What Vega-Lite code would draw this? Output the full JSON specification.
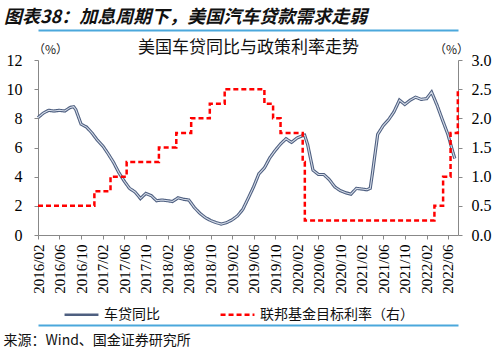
{
  "$schema": "https://vega.github.io/schema/vega-lite/v6.json",
  "width": 420,
  "height": 175,
  "autosize": {"type": "none"},
  "padding": {"left": 38, "top": 60, "right": 42, "bottom": 117},
  "background": "white",
  "config": {"view": {"stroke": null}, "font": "Noto Sans CJK SC"},
  "title": {
    "text": "图表38：加息周期下，美国汽车贷款需求走弱",
    "anchor": "start",
    "frame": "group",
    "dx": -34,
    "offset": 3,
    "fontSize": 18,
    "fontStyle": "italic",
    "fontWeight": "bold",
    "color": "#111111",
    "font": "Noto Sans CJK SC"
  },
  "datasets": {
    "loan": [
      {"date": "2016-02-01", "value": 8.05},
      {"date": "2016-03-01", "value": 8.35},
      {"date": "2016-04-01", "value": 8.55},
      {"date": "2016-05-01", "value": 8.5},
      {"date": "2016-06-01", "value": 8.55},
      {"date": "2016-07-01", "value": 8.5},
      {"date": "2016-08-01", "value": 8.75},
      {"date": "2016-08-20", "value": 8.8},
      {"date": "2016-09-01", "value": 8.6},
      {"date": "2016-10-01", "value": 7.6},
      {"date": "2016-11-01", "value": 7.4},
      {"date": "2016-12-01", "value": 7.0},
      {"date": "2017-01-01", "value": 6.5},
      {"date": "2017-02-01", "value": 6.1},
      {"date": "2017-03-01", "value": 5.6},
      {"date": "2017-04-01", "value": 5.0},
      {"date": "2017-05-01", "value": 4.3},
      {"date": "2017-06-01", "value": 3.7},
      {"date": "2017-07-01", "value": 3.2},
      {"date": "2017-08-01", "value": 2.95},
      {"date": "2017-09-01", "value": 2.5},
      {"date": "2017-10-01", "value": 2.85},
      {"date": "2017-11-01", "value": 2.7},
      {"date": "2017-12-01", "value": 2.35},
      {"date": "2018-01-01", "value": 2.4},
      {"date": "2018-02-01", "value": 2.35},
      {"date": "2018-03-01", "value": 2.3},
      {"date": "2018-04-01", "value": 2.55},
      {"date": "2018-05-01", "value": 2.45},
      {"date": "2018-06-01", "value": 2.4},
      {"date": "2018-07-01", "value": 1.9},
      {"date": "2018-08-01", "value": 1.5},
      {"date": "2018-09-01", "value": 1.2},
      {"date": "2018-10-01", "value": 1.0},
      {"date": "2018-11-01", "value": 0.85},
      {"date": "2018-12-01", "value": 0.75},
      {"date": "2019-01-01", "value": 0.85},
      {"date": "2019-02-01", "value": 1.05},
      {"date": "2019-03-01", "value": 1.3},
      {"date": "2019-04-01", "value": 1.75},
      {"date": "2019-05-01", "value": 2.5},
      {"date": "2019-06-01", "value": 3.3},
      {"date": "2019-07-01", "value": 4.2},
      {"date": "2019-08-01", "value": 4.6},
      {"date": "2019-09-01", "value": 5.3},
      {"date": "2019-10-01", "value": 5.8},
      {"date": "2019-11-01", "value": 6.25},
      {"date": "2019-12-01", "value": 6.6},
      {"date": "2020-01-01", "value": 6.35},
      {"date": "2020-02-01", "value": 6.65},
      {"date": "2020-03-01", "value": 6.8},
      {"date": "2020-03-15", "value": 6.85},
      {"date": "2020-04-01", "value": 6.2},
      {"date": "2020-05-01", "value": 4.45},
      {"date": "2020-06-01", "value": 4.15},
      {"date": "2020-07-01", "value": 4.15},
      {"date": "2020-08-01", "value": 3.8},
      {"date": "2020-09-01", "value": 3.3},
      {"date": "2020-10-01", "value": 3.05},
      {"date": "2020-11-01", "value": 2.9},
      {"date": "2020-12-01", "value": 2.8},
      {"date": "2021-01-01", "value": 3.2},
      {"date": "2021-02-01", "value": 3.15},
      {"date": "2021-03-01", "value": 3.1},
      {"date": "2021-03-20", "value": 3.2},
      {"date": "2021-04-01", "value": 4.2},
      {"date": "2021-05-01", "value": 6.9},
      {"date": "2021-06-01", "value": 7.5},
      {"date": "2021-07-01", "value": 7.9},
      {"date": "2021-08-01", "value": 8.45},
      {"date": "2021-09-01", "value": 9.25},
      {"date": "2021-10-01", "value": 8.95},
      {"date": "2021-11-01", "value": 9.25},
      {"date": "2021-12-01", "value": 9.45},
      {"date": "2022-01-01", "value": 9.3},
      {"date": "2022-02-01", "value": 9.35},
      {"date": "2022-03-01", "value": 9.8},
      {"date": "2022-04-01", "value": 8.9},
      {"date": "2022-05-01", "value": 7.9},
      {"date": "2022-06-01", "value": 6.9},
      {"date": "2022-07-01", "value": 5.6},
      {"date": "2022-07-10", "value": 5.25}
    ],
    "fed": [
      {"date": "2016-02-01", "rate": 0.5},
      {"date": "2016-12-15", "rate": 0.75},
      {"date": "2017-03-16", "rate": 1.0},
      {"date": "2017-06-15", "rate": 1.25},
      {"date": "2017-12-14", "rate": 1.5},
      {"date": "2018-03-22", "rate": 1.75},
      {"date": "2018-06-14", "rate": 2.0},
      {"date": "2018-09-27", "rate": 2.25},
      {"date": "2018-12-20", "rate": 2.5},
      {"date": "2019-08-01", "rate": 2.25},
      {"date": "2019-09-19", "rate": 2.0},
      {"date": "2019-10-31", "rate": 1.75},
      {"date": "2020-03-04", "rate": 1.25},
      {"date": "2020-03-16", "rate": 0.25},
      {"date": "2022-03-17", "rate": 0.5},
      {"date": "2022-05-05", "rate": 1.0},
      {"date": "2022-06-16", "rate": 1.75},
      {"date": "2022-07-27", "rate": 2.5},
      {"date": "2022-07-28", "rate": 2.5}
    ]
  },
  "layer": [
    {
      "data": {"name": "loan"},
      "mark": {"type": "line", "strokeWidth": 3.2},
      "encoding": {
        "x": {
          "field": "date",
          "type": "temporal",
          "scale": {"type": "utc", "domain": [{"year": 2016, "month": 2, "date": 1, "utc": true}, {"year": 2022, "month": 7, "date": 28, "utc": true}]},
          "axis": {
            "orient": "top",
            "offset": 30,
            "domainColor": "#4BA8DC",
            "domainWidth": 2,
            "ticks": false,
            "labels": false,
            "grid": false,
            "title": "美国车贷同比与政策利率走势",
            "titleFont": "Noto Sans CJK SC",
            "titleFontSize": 17,
            "titleFontWeight": "normal",
            "titleColor": "#111111",
            "titleY": 17,
            "titleBaseline": "middle"
          }
        },
        "y": {
          "field": "value",
          "type": "quantitative",
          "scale": {"domain": [0, 12]},
          "axis": {
            "orient": "left",
            "values": [0, 2, 4, 6, 8, 10, 12],
            "grid": false,
            "labelFont": "Liberation Serif",
            "labelFontSize": 16,
            "labelColor": "#000000",
            "labelPadding": 12,
            "tickSize": 4,
            "tickColor": "#888888",
            "domainColor": "#888888",
            "title": "（%）",
            "titleFont": "Noto Sans CJK SC",
            "titleFontSize": 12,
            "titleFontWeight": "normal",
            "titleColor": "#222222",
            "titleAngle": 0,
            "titleAlign": "center",
            "titleBaseline": "middle",
            "titleX": 12,
            "titleY": -11
          }
        },
        "color": {
          "datum": "车贷同比",
          "type": "nominal",
          "scale": {"domain": ["车贷同比", "联邦基金目标利率（右）"], "range": ["#4E5F80", "#FF0000"]},
          "legend": {
            "orient": "none",
            "legendX": 25,
            "legendY": 236,
            "direction": "horizontal",
            "title": null,
            "symbolType": "stroke",
            "symbolSize": 1150,
            "symbolStrokeWidth": 2.5,
            "labelFont": "Noto Sans CJK SC",
            "labelFontSize": 14,
            "labelColor": "#111111",
            "columnPadding": 55,
            "labelOffset": 4
          }
        },
        "strokeDash": {
          "datum": "车贷同比",
          "type": "nominal",
          "scale": {"domain": ["车贷同比", "联邦基金目标利率（右）"], "range": [[1, 0], [5, 3]]},
          "legend": {
            "orient": "none",
            "legendX": 25,
            "legendY": 236,
            "direction": "horizontal",
            "title": null,
            "symbolType": "stroke",
            "symbolSize": 1150,
            "symbolStrokeWidth": 2.5,
            "labelFont": "Noto Sans CJK SC",
            "labelFontSize": 14,
            "labelColor": "#111111",
            "columnPadding": 55,
            "labelOffset": 4
          }
        }
      }
    },
    {
      "data": {"name": "loan"},
      "mark": {"type": "line", "strokeWidth": 1.1, "color": "#D5DCE8"},
      "encoding": {
        "x": {
          "field": "date",
          "type": "temporal",
          "scale": {"type": "utc", "domain": [{"year": 2016, "month": 2, "date": 1, "utc": true}, {"year": 2022, "month": 7, "date": 28, "utc": true}]},
          "axis": {
            "orient": "bottom",
            "offset": 90,
            "domainColor": "#4BA8DC",
            "domainWidth": 2,
            "ticks": false,
            "labels": false,
            "grid": false,
            "title": "来源：Wind、国金证券研究所",
            "titleFont": "Noto Sans CJK SC",
            "titleFontSize": 14,
            "titleFontWeight": "normal",
            "titleColor": "#111111",
            "titleAlign": "left",
            "titleAnchor": "start",
            "titleBaseline": "middle",
            "titleX": -35,
            "titleY": 15
          }
        },
        "y": {
          "field": "value",
          "type": "quantitative",
          "scale": {"domain": [0, 12]},
          "axis": null
        }
      }
    },
    {
      "data": {"name": "fed"},
      "mark": {"type": "line", "strokeWidth": 2.5, "interpolate": "step-after"},
      "encoding": {
        "x": {
          "field": "date",
          "type": "temporal",
          "scale": {"type": "utc", "domain": [{"year": 2016, "month": 2, "date": 1, "utc": true}, {"year": 2022, "month": 7, "date": 28, "utc": true}]},
          "axis": {
            "orient": "bottom",
            "values": [
              {"year": 2016, "month": 2, "date": 1, "utc": true},
              {"year": 2016, "month": 6, "date": 1, "utc": true},
              {"year": 2016, "month": 10, "date": 1, "utc": true},
              {"year": 2017, "month": 2, "date": 1, "utc": true},
              {"year": 2017, "month": 6, "date": 1, "utc": true},
              {"year": 2017, "month": 10, "date": 1, "utc": true},
              {"year": 2018, "month": 2, "date": 1, "utc": true},
              {"year": 2018, "month": 6, "date": 1, "utc": true},
              {"year": 2018, "month": 10, "date": 1, "utc": true},
              {"year": 2019, "month": 2, "date": 1, "utc": true},
              {"year": 2019, "month": 6, "date": 1, "utc": true},
              {"year": 2019, "month": 10, "date": 1, "utc": true},
              {"year": 2020, "month": 2, "date": 1, "utc": true},
              {"year": 2020, "month": 6, "date": 1, "utc": true},
              {"year": 2020, "month": 10, "date": 1, "utc": true},
              {"year": 2021, "month": 2, "date": 1, "utc": true},
              {"year": 2021, "month": 6, "date": 1, "utc": true},
              {"year": 2021, "month": 10, "date": 1, "utc": true},
              {"year": 2022, "month": 2, "date": 1, "utc": true},
              {"year": 2022, "month": 6, "date": 1, "utc": true}
            ],
            "format": "%Y/%m",
            "labelAngle": -90,
            "labelFont": "Liberation Serif",
            "labelFontSize": 15,
            "labelColor": "#000000",
            "labelPadding": 5,
            "labelOverlap": false,
            "labelFlush": false,
            "tickSize": 4,
            "tickColor": "#888888",
            "domainColor": "#888888",
            "grid": false,
            "title": null
          }
        },
        "y": {
          "field": "rate",
          "type": "quantitative",
          "scale": {"domain": [0, 3]},
          "axis": {
            "orient": "right",
            "values": [0, 0.5, 1, 1.5, 2, 2.5, 3],
            "format": ".1f",
            "grid": false,
            "labelFont": "Liberation Serif",
            "labelFontSize": 16,
            "labelColor": "#000000",
            "labelPadding": 9,
            "tickSize": 4,
            "tickColor": "#888888",
            "domainColor": "#888888",
            "title": "（%）",
            "titleFont": "Noto Sans CJK SC",
            "titleFontSize": 12,
            "titleFontWeight": "normal",
            "titleColor": "#222222",
            "titleAngle": 0,
            "titleAlign": "center",
            "titleBaseline": "middle",
            "titleX": -7,
            "titleY": -11
          }
        },
        "color": {
          "datum": "联邦基金目标利率（右）",
          "type": "nominal",
          "scale": {"domain": ["车贷同比", "联邦基金目标利率（右）"], "range": ["#4E5F80", "#FF0000"]}
        },
        "strokeDash": {
          "datum": "联邦基金目标利率（右）",
          "type": "nominal",
          "scale": {"domain": ["车贷同比", "联邦基金目标利率（右）"], "range": [[1, 0], [5, 3]]}
        }
      }
    }
  ],
  "resolve": {"scale": {"y": "independent"}, "axis": {"x": "independent", "y": "independent"}}
}
